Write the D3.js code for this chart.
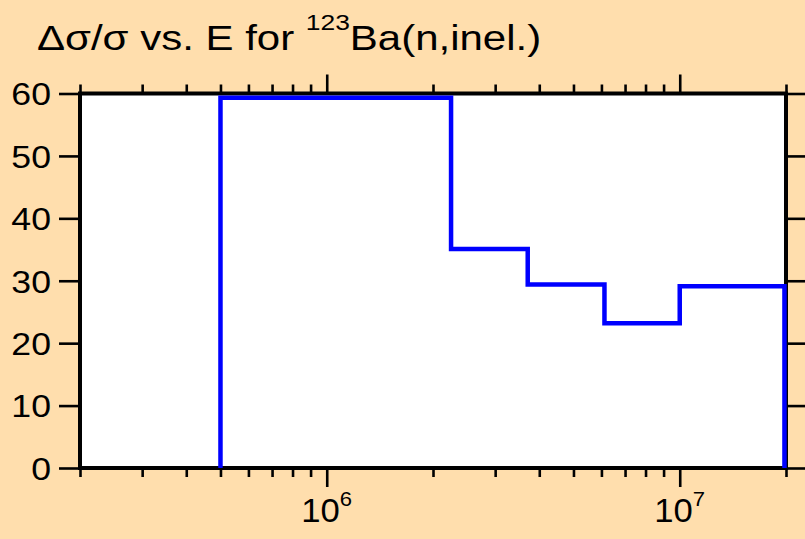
<!DOCTYPE html>
<html>
<head>
<meta charset="utf-8">
<script src="https://cdn.jsdelivr.net/npm/d3@7"></script>
<style>
  html, body { margin: 0; padding: 0; background: #FFDEAD; }
  svg { display: block; }
  text { font-family: "Liberation Sans", Arial, sans-serif; fill: #000; }
</style>
</head>
<body>
<svg id="chart" width="805" height="539"></svg>
<script>
// ---- data ----
const binEdges = [5e5, 2.25e6, 3.71e6, 6.12e6, 1e7, 1.98e7];   // energy (eV)
const relUncert = [59.3, 35.1, 29.4, 23.2, 29.1];              // Δσ/σ (%)
const yTicks = [0, 10, 20, 30, 40, 50, 60];
const xMajor = [1e6, 1e7];
const xMajorExp = ["6", "7"];
const xDomain = [2e5, 2e7];
const yDomain = [0, 60];

// ---- layout ----
const W = 805, H = 539;
const L = 80, R = 786, T = 93.5, B = 468;
const svg = d3.select("#chart");

const x = d3.scaleLog().domain(xDomain).range([L, R]);
const y = d3.scaleLinear().domain(yDomain).range([B, T]);

// plot area
svg.append("rect").attr("x", L).attr("y", T).attr("width", R - L).attr("height", B - T)
  .attr("fill", "#fff");

// minor ticks for x
const minor = [];
for (let dec = 1e5; dec <= 1e7; dec *= 10) {
  for (let m = 1; m <= 9; m++) {
    const v = m * dec;
    if (v >= xDomain[0] && v <= xDomain[1] && !xMajor.includes(v)) minor.push(v);
  }
}

// axes
const axB = d3.axisBottom(x).tickValues(minor).tickSize(9).tickFormat("");
const axT = d3.axisTop(x).tickValues(minor).tickSize(9).tickFormat("");
const axBM = d3.axisBottom(x).tickValues(xMajor).tickSize(19).tickFormat("");
const axTM = d3.axisTop(x).tickValues(xMajor).tickSize(19).tickFormat("");
const axL = d3.axisLeft(y).tickValues(yTicks).tickSize(21).tickFormat("");
const axR = d3.axisRight(y).tickValues(yTicks).tickSize(21).tickFormat("");

function styleAxis(g) {
  g.select(".domain").remove();
  g.selectAll(".tick line").attr("stroke", "#000").attr("stroke-width", 2.6);
}
svg.append("g").attr("transform", `translate(0,${B})`).call(axB).call(styleAxis);
svg.append("g").attr("transform", `translate(0,${B})`).call(axBM).call(styleAxis);
svg.append("g").attr("transform", `translate(0,${T})`).call(axT).call(styleAxis);
svg.append("g").attr("transform", `translate(0,${T})`).call(axTM).call(styleAxis);
svg.append("g").attr("transform", `translate(${L},0)`).call(axL).call(styleAxis);
svg.append("g").attr("transform", `translate(${R},0)`).call(axR).call(styleAxis);

// frame
svg.append("rect").attr("x", L).attr("y", T).attr("width", R - L).attr("height", B - T)
  .attr("fill", "none").attr("stroke", "#000").attr("stroke-width", 4);

// step line (drawn above the frame)
const pts = [[binEdges[0], 0]];
relUncert.forEach((v, i) => { pts.push([binEdges[i], v]); pts.push([binEdges[i + 1], v]); });
pts.push([binEdges[binEdges.length - 1], 0]);
svg.append("path")
  .attr("d", d3.line().x(d => x(d[0])).y(d => y(d[1]))(pts))
  .attr("fill", "none").attr("stroke", "#0000ff").attr("stroke-width", 4.5)
  .attr("stroke-linejoin", "miter").attr("stroke-linecap", "butt");

// y labels (wide glyphs, as in the reference)
svg.append("g").selectAll("text").data(yTicks).join("text")
  .attr("transform", d => `translate(${L - 29},${y(d)}) scale(1.15,1)`)
  .attr("dy", "0.38em")
  .attr("text-anchor", "end").attr("font-size", 31).text(d => d);

// x labels
const xl = svg.append("g").selectAll("text").data(xMajor).join("text")
  .attr("transform", d => `translate(${x(d)},522) scale(1.05,1)`)
  .attr("text-anchor", "middle").attr("font-size", 33);
xl.append("tspan").text("10");
xl.append("tspan").attr("dy", -16).attr("font-size", 21).text((d, i) => xMajorExp[i]);

// title
const t = svg.append("text").attr("transform", "translate(37,50) scale(1.2,1)").attr("font-size", 35);
t.append("tspan").text("Δσ/σ vs. E for ");
t.append("tspan").attr("dy", -20).attr("font-size", 22).text("123");
t.append("tspan").attr("dy", 20).text("Ba(n,inel.)");
</script>
</body>
</html>
